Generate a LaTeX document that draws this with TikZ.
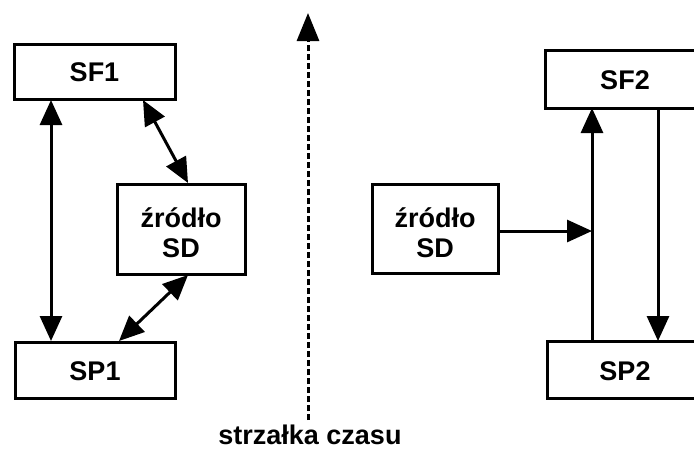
\documentclass[tikz,border=0pt]{standalone}
\usepackage{fontspec}
\setmainfont{Liberation Sans}
\usetikzlibrary{arrows.meta}
\begin{document}
\begin{tikzpicture}[x=1pt,y=-1pt,
  box/.style={draw,line width=3pt,inner sep=0pt},
  lbl/.style={font=\fontsize{27}{30}\selectfont\bfseries,align=center},
  con/.style={line width=3pt,-{Triangle[length=25pt,width=22pt]}},
  dcon/.style={line width=3pt,{Triangle[length=25pt,width=22pt]}-{Triangle[length=25pt,width=22pt]}}]
\useasboundingbox (0,0) rectangle (694,448);
\begin{scope}
\clip (0,0) rectangle (694,448);
% left group
\draw[box] (14,44) rectangle (175,99);
\node[lbl] (sf1) at (94.5,72) {SF1};
\coordinate (sf1b) at (51,100);
\coordinate (sf1r) at (143,100);
\draw[box] (15,342) rectangle (175,398);
\node[lbl] (sp1) at (95,371) {SP1};
\coordinate (sp1t) at (51,341);
\coordinate (sp1r) at (119,341);
\draw[box] (117,184) rectangle (245,274);
\node[lbl] (zr1) at (181,233) {źródło\\SD};
\coordinate (zr1t) at (188,183);
\coordinate (zr1b) at (188,275);
\draw[dcon] (sf1b) -- (sp1t);
\draw[dcon] (sf1r) -- (zr1t);
\draw[dcon] (zr1b) -- (sp1r);
% time arrow
\coordinate (tb) at (308,420);
\coordinate (tt) at (308,13);
\draw[line width=3pt,dash pattern=on 6pt off 3pt,-{Triangle[length=28pt,width=22pt]}] (tb) -- (tt);
\node[font=\fontsize{27}{30}\selectfont\bfseries,anchor=base] (lab) at (310,444) {strzałka czasu};
% right group
\draw[box] (545,50) rectangle (720,108);
\node[lbl] (sf2) at (625,80) {SF2};
\draw[box] (547,341) rectangle (720,398);
\node[lbl] (sp2) at (625,371) {SP2};
\draw[box] (372,184) rectangle (498,273);
\node[lbl] (zr2) at (435,233) {źródło\\SD};
\coordinate (sp2t) at (592,341);
\coordinate (sf2b) at (592,108);
\coordinate (j) at (592,231);
\coordinate (zr2r) at (498,231);
\coordinate (sf2b2) at (658,108);
\coordinate (sp2t2) at (658,341);
\draw[con] (sp2t) -- (sf2b);
\draw[con] (zr2r) -- (j);
\draw[con] (sf2b2) -- (sp2t2);
\end{scope}
\end{tikzpicture}
\end{document}
